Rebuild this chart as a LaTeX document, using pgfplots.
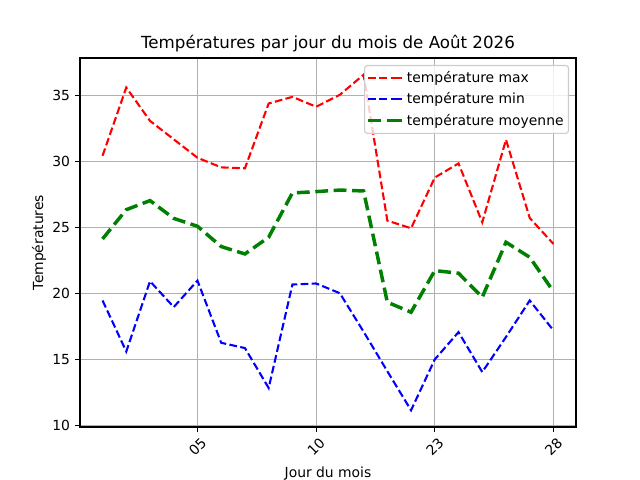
\documentclass[border=0pt]{standalone}
\usepackage{fontspec}
\setmainfont{DejaVu Sans}
\usepackage{pgfplots}
\pgfplotsset{compat=1.18}
\definecolor{mgrid}{HTML}{B0B0B0}
\definecolor{mgreen}{HTML}{008000}
\definecolor{lgd}{HTML}{CCCCCC}
\begin{document}
\begin{tikzpicture}
\useasboundingbox (-57.6pt,-38.16pt) rectangle (403.2pt,307.44pt);
\begin{axis}[
  at={(0pt,0pt)}, anchor=south west,
  scale only axis,
  width=357.12pt, height=265.68pt,
  xmin=-0.95, xmax=19.95,
  ymin=9.87, ymax=37.87,
  xtick={4,9,14,19},
  xticklabels={05,10,23,28},
  ytick={10,15,20,25,30,35},
  xtick pos=bottom, ytick pos=left,
  tick align=outside,
  major tick length=3.5pt,
  tick style={black, line width=0.8pt},
  axis line style={black, line width=0.8pt},
  grid=major,
  major grid style={mgrid, line width=0.8pt},
  font=\fontsize{10}{12}\selectfont,
  /pgf/number format/assume math mode=true,
  xticklabel style={yshift=-10.5pt, rotate=45, anchor=center},
  yticklabel style={anchor=east, inner sep=0pt, xshift=-3.5pt},
  title={Températures par jour du mois de Août 2026},
  every axis title/.style={at={(axis description cs:0.5,1.026)}, anchor=base, font=\fontsize{12}{14}\selectfont},
  xlabel={Jour du mois},
  ylabel={Températures},
  every axis x label/.style={at={(axis description cs:0.5,-0.127)}, anchor=center},
  every axis y label/.style={at={(axis description cs:-0.0827,0.5)}, rotate=90, anchor=center},
  legend cell align=left,
  legend style={at={(1,1)}, anchor=north east, xshift=-5pt, yshift=-5pt,
    draw=lgd, line width=0.8pt, rounded corners=2pt, fill=white, fill opacity=0.8, text opacity=1,
    font=\fontsize{10}{12}\selectfont, inner xsep=1.5pt, inner ysep=2.5pt, row sep=1.7pt,
    nodes={inner sep=2pt}},
  legend image code/.code={\draw[#1] (0pt,0pt) -- (20pt,0pt); \path (20pt,0pt) -- (24.5pt,0pt);},
]
\addplot[red, line width=1.5pt, dash pattern=on 5.55pt off 2.4pt] coordinates {
(0,30.45) (1,35.63) (2,33.1) (3,31.7) (4,30.3) (5,29.57) (6,29.5) (7,34.42) (8,34.92) (9,34.17)
(10,35.08) (11,36.6) (12,25.53) (13,24.95) (14,28.8) (15,29.87) (16,25.4) (17,31.67) (18,25.73) (19,23.76)};
\addlegendentry{température max}
\addplot[blue, line width=1.5pt, dash pattern=on 5.55pt off 2.4pt] coordinates {
(0,19.47) (1,15.6) (2,20.93) (3,18.97) (4,20.98) (5,16.26) (6,15.86) (7,12.83) (8,20.68) (9,20.76)
(10,20.02) (11,17.1) (12,14.1) (13,11.14) (14,15.0) (15,17.07) (16,14.04) (17,16.7) (18,19.47) (19,17.2)};
\addlegendentry{température min}
\addplot[mgreen, line width=2.5pt, dash pattern=on 9.25pt off 4pt] coordinates {
(0,24.14) (1,26.36) (2,27.05) (3,25.7) (4,25.1) (5,23.56) (6,23.0) (7,24.27) (8,27.63) (9,27.73)
(10,27.85) (11,27.78) (12,19.34) (13,18.58) (14,21.74) (15,21.54) (16,19.72) (17,23.89) (18,22.75) (19,20.15)};
\addlegendentry{température moyenne}
\end{axis}
\end{tikzpicture}
\end{document}
